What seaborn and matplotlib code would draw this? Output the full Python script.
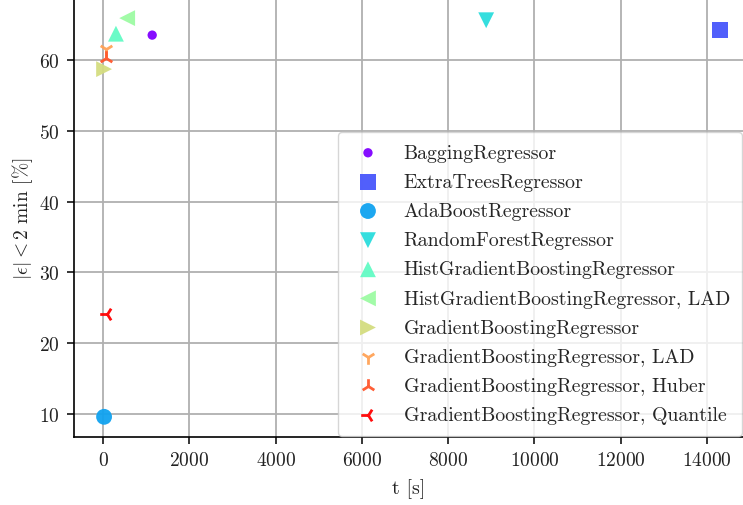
import numpy as np
import pandas as pd
import matplotlib
matplotlib.use("Agg")
import matplotlib.pyplot as plt
import seaborn as sns

models = [
    "BaggingRegressor",
    "ExtraTreesRegressor",
    "AdaBoostRegressor",
    "RandomForestRegressor",
    "HistGradientBoostingRegressor",
    "HistGradientBoostingRegressor, LAD",
    "GradientBoostingRegressor",
    "GradientBoostingRegressor, LAD",
    "GradientBoostingRegressor, Huber",
    "GradientBoostingRegressor, Quantile",
]
train_time = [1140, 14300, 25, 8880, 300, 560, 25, 70, 80, 100]
within_2min = [63.5, 64.2, 9.6, 65.6, 63.7, 65.9, 58.7, 61.5, 60.2, 24.1]
markers = ["o", "s", "o", "v", "^", "<", ">", "1", "2", "3"]
sizes = [45, 130, 130, 130, 130, 130, 130, 110, 110, 110]

df = pd.DataFrame({"model": models, "t": train_time, "acc": within_2min})

sns.set_style("ticks")
plt.rcParams["font.family"] = ["cmr10", "DejaVu Serif"]
plt.rcParams["mathtext.fontset"] = "cm"
plt.rcParams["axes.unicode_minus"] = False
plt.rcParams["axes.formatter.use_mathtext"] = True

fig = plt.figure(figsize=(7.43, 5.06), dpi=100)
ax = fig.add_axes([74 / 743, 68 / 506, 669 / 743, 438 / 506])

colors = plt.cm.rainbow(np.linspace(0, 1, len(models)))
for i, row in df.iterrows():
    thin = markers[i] in ("1", "2", "3")
    sns.scatterplot(
        x=[row["t"]], y=[row["acc"]], ax=ax, color=colors[i],
        marker=markers[i], s=sizes[i], label=row["model"],
        linewidth=2.0 if thin else 0,
        edgecolor=colors[i] if thin else "none",
        alpha=0.95, zorder=3,
    )

ax.set_xlim(-672, 14832)
ax.set_ylim(6.75, 68.6)
ax.set_xticks(np.arange(0, 14001, 2000))
ax.set_yticks(np.arange(10, 61, 10))
ax.grid(True, color="#b0b0b0", linewidth=1.3, zorder=0)
ax.set_axisbelow(True)
sns.despine(ax=ax, top=True, right=True)
for s in ("left", "bottom"):
    ax.spines[s].set_color("black")
    ax.spines[s].set_linewidth(1.2)
ax.tick_params(axis="both", labelsize=14, length=5, width=1.1, pad=5,
               color="black", labelcolor="#222222")

ax.set_xlabel("t [s]", fontsize=14.5, color="#222222", labelpad=7)
ax.set_ylabel(r"$|\epsilon| < 2$ min [%]", fontsize=14, color="#222222", labelpad=3)

leg = ax.legend(loc="lower right", fontsize=14.3, frameon=True, framealpha=0.8,
                borderpad=0.6, labelspacing=0.56, handlelength=1.8,
                handletextpad=0.9, borderaxespad=0.05)
leg.get_frame().set_edgecolor("#cccccc")

fig.savefig("out.png", dpi=100)
